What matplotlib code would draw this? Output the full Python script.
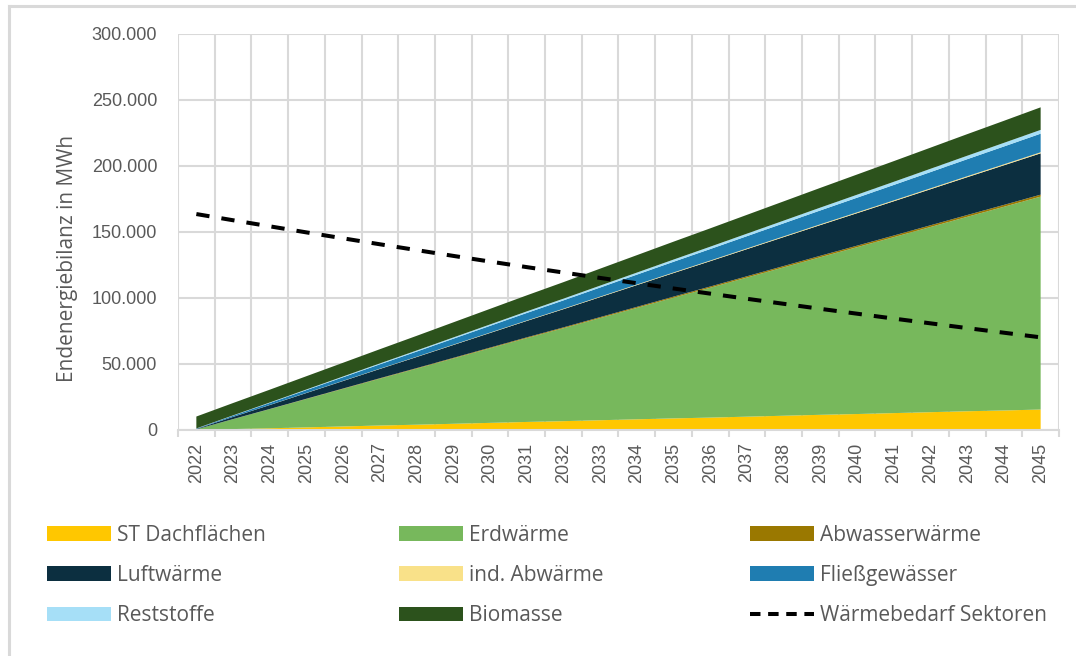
import numpy as np
import matplotlib.pyplot as plt
from matplotlib.patches import Patch
from matplotlib.lines import Line2D
from matplotlib.ticker import FuncFormatter

years = [str(y) for y in range(2022, 2046)]

# Werte in MWh
st_dach = [0, 700, 1300, 2000, 2700, 3400, 4000, 4700, 5400, 6100, 6700, 7400,
           8100, 8800, 9400, 10100, 10800, 11500, 12100, 12800, 13500, 14200, 14800, 15500]
erdwaerme = [500, 7500, 14500, 21500, 28500, 35500, 42500, 49500, 56500, 63500, 70400, 77400,
             84400, 91400, 98400, 105400, 112400, 119400, 126400, 133300, 140300, 147300, 154300, 161300]
abwasser = [0, 70, 130, 200, 260, 330, 390, 460, 520, 590, 650, 720,
            780, 850, 910, 980, 1040, 1110, 1170, 1240, 1300, 1370, 1430, 1500]
luftwaerme = [300, 1650, 3000, 4350, 5700, 7050, 8400, 9750, 11100, 12450, 13800, 15150,
              16500, 17850, 19200, 20550, 21900, 23250, 24600, 25950, 27300, 28650, 30000, 31300]
ind_abwaerme = [0, 40, 70, 110, 140, 180, 210, 250, 280, 320, 350, 390,
                420, 460, 490, 530, 560, 600, 630, 670, 700, 740, 770, 800]
fliess = [300, 900, 1500, 2100, 2700, 3300, 3900, 4500, 5100, 5700, 6300, 6900,
          7500, 8100, 8700, 9300, 9900, 10500, 11100, 11700, 12300, 12900, 13500, 14100]
reststoffe = [100, 220, 340, 460, 580, 700, 820, 940, 1060, 1180, 1300, 1420,
              1540, 1660, 1780, 1900, 2020, 2140, 2260, 2380, 2500, 2620, 2740, 2850]
biomasse = [9000, 9350, 9700, 10050, 10400, 10750, 11100, 11450, 11800, 12150, 12500, 12850,
            13200, 13550, 13900, 14250, 14600, 14950, 15300, 15650, 16000, 16350, 16700, 17100]
waermebedarf = [163600, 158900, 154300, 149700, 145200, 140700, 136300, 131900, 127600, 123400,
                119300, 115200, 111200, 107200, 103300, 99400, 95600, 91800, 88100, 84400,
                80800, 77200, 73700, 70200]

names = ['ST Dachflächen', 'Erdwärme', 'Abwasserwärme', 'Luftwärme', 'ind. Abwärme',
         'Fließgewässer', 'Reststoffe', 'Biomasse']
colors = ['#FFC700', '#77B85C', '#9A7800', '#0C2F40', '#F9E189',
          '#1F7DB1', '#A6DFF7', '#2C521C']
series = [st_dach, erdwaerme, abwasser, luftwaerme, ind_abwaerme, fliess, reststoffe, biomasse]

grey = '#595959'
gridc = '#D9D9D9'

fig = plt.figure(figsize=(10.76, 6.56), dpi=100)
ax = fig.add_axes([178 / 1076, 1 - 430 / 656, (1059 - 178) / 1076, (430 - 34) / 656])

x = np.arange(len(years))
ax.stackplot(x, *series, colors=colors, linewidth=0, zorder=2)
ax.plot(x, waermebedarf, color='black', lw=2.9, dashes=(3.3, 3.0), zorder=3)

ax.set_xlim(-0.5, len(years) - 0.5)
ax.set_ylim(0, 300000)
ax.set_yticks(np.arange(0, 300001, 50000))
ax.yaxis.set_major_formatter(FuncFormatter(lambda v, p: f'{int(v):,}'.replace(',', '.')))
ax.set_xticks(x)
ax.set_xticklabels(years, rotation=90)
ax.set_xticks(np.arange(-0.5, len(years)), minor=True)

ax.grid(axis='y', which='major', color=gridc, lw=1.5, zorder=0)
ax.grid(axis='x', which='minor', color=gridc, lw=1.5, zorder=0)
ax.set_axisbelow(True)
for s in ['top', 'right', 'left']:
    ax.spines[s].set_visible(False)
ax.spines['bottom'].set_color(gridc)
ax.spines['bottom'].set_linewidth(1.5)

ax.tick_params(axis='x', which='major', length=0, pad=9, labelsize=13, labelcolor=grey)
ax.tick_params(axis='x', which='minor', length=5, color=gridc, width=1.5)
ax.tick_params(axis='y', length=0, pad=15, labelsize=13, labelcolor=grey)
for t in ax.get_xticklabels() + ax.get_yticklabels():
    t.set_fontfamily('Liberation Sans')

fig.text(68 / 1076, 1 - 258 / 656, 'Endenergiebilanz in MWh', rotation=90, ha='center',
         va='center', fontsize=15, color=grey, family='Open Sans')

# Legende in drei Spalten
handles = [Patch(facecolor=c, edgecolor='none') for c in colors]
handles.append(Line2D([0], [0], color='black', lw=2.9, dashes=(2.6, 1.9)))
labels = names + ['Wärmebedarf Sektoren']
col_x = [47, 399, 750]
for i in range(3):
    leg = fig.legend([handles[i], handles[i + 3], handles[i + 6]],
                     [labels[i], labels[i + 3], labels[i + 6]],
                     loc='upper left', bbox_to_anchor=(col_x[i] / 1076, 1 - 525 / 656),
                     frameon=False, ncol=1, borderpad=0, borderaxespad=0,
                     handlelength=3.05, handleheight=0.72, handletextpad=0.33,
                     labelspacing=0.92, prop={'family': 'Open Sans', 'size': 15})
    for t in leg.get_texts():
        t.set_color(grey)

# Rahmen
fig.add_artist(Line2D([8.5 / 1076, 8.5 / 1076], [0, 1 - 6 / 656], color=gridc, lw=2.2))
fig.add_artist(Line2D([8.5 / 1076, 1], [1 - 6 / 656, 1 - 6 / 656], color=gridc, lw=2.2))

fig.savefig('out.png', dpi=100)
